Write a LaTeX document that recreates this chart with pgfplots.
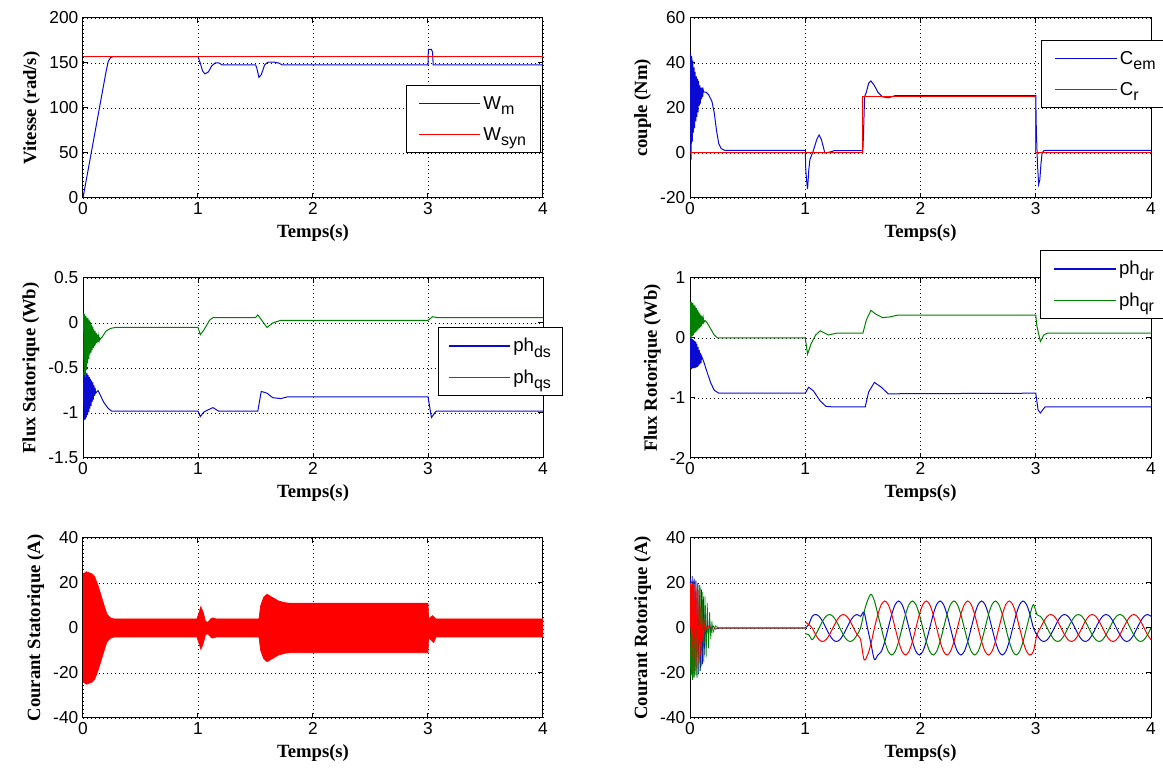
\documentclass[border=0pt]{standalone}
\usepackage{fontspec}
\setmainfont{Liberation Serif}
\setsansfont{Liberation Sans}
\usepackage{pgfplots}
\usepackage{pgfplotstable}
\pgfplotsset{compat=1.18}
\definecolor{mblue}{RGB}{10,10,210}
\definecolor{mgreen}{RGB}{0,128,0}
\definecolor{mred}{RGB}{255,0,0}
\newcommand\sub[1]{\raisebox{-0.55ex}{\fontsize{12}{12}\selectfont #1}}
\pgfplotsset{
  mat/.style={
    scale only axis, width=345pt, height=135pt,
    xmin=0, xmax=4, xtick={0,1,2,3,4},
    grid=major,
    grid style={black, line width=0.7pt, dash pattern=on 0.7pt off 2.3pt},
    axis line style={black, line width=0.75pt},
    tick align=inside, major tick length=4pt,
    tick style={black, line width=0.75pt},
    tick label style={font=\sffamily\fontsize{13}{15}\selectfont},
    /pgf/number format/assume math mode=true,
    label style={font=\bfseries\fontsize{14}{16}\selectfont},
    xlabel={Temps(s)},
    legend cell align=left,
    legend style={line width=0.75pt, fill=white,
      font=\sffamily\fontsize{14}{16}\selectfont,
      row sep=8pt, inner xsep=7pt, inner ysep=6pt},
    legend image code/.code={\draw[line width=1pt,#1] (0pt,0pt) -- (46pt,0pt);},
    every axis plot/.append style={line width=0.75pt},
  }
}
\begin{document}
\begin{tikzpicture}
% ---------- Panel 1 : speed
\begin{axis}[mat, at={(62.25pt,564.75pt)}, anchor=north west, width=345pt,
  ymin=0, ymax=200, ytick={0,50,100,150,200},
  ylabel={Vitesse (rad/s)},
  legend style={at={(0.996,0.249)}, anchor=south east, inner xsep=9pt}]
\addplot[color=mblue] table {
0 0
0.05 35
0.1 70
0.15 105
0.2 140
0.22 152
0.24 156
0.26 157
1.0 157
1.02 150
1.04 141
1.06 138
1.09 140
1.12 147
1.15 150
1.18 150
1.21 148
1.5 148
1.51 145
1.53 134
1.55 137
1.58 148
1.61 151
1.66 151
1.7 150
1.73 148
3.0 148
3.003 165
3.03 165
3.04 162
3.045 148
4 148
};
\addlegendentry{W\sub{m}}
\addplot[color=mred] table {
0 157
4 157
};
\addlegendentry{W\sub{syn}}
\end{axis}
% ---------- Panel 2 : torque
\begin{axis}[mat, at={(517.5pt,564.75pt)}, anchor=north west, width=345.75pt,
  ymin=-20, ymax=60, ytick={-20,0,20,40,60},
  ylabel={couple (Nm)},
  legend style={at={(0.761,0.878)}, anchor=north west, inner xsep=10pt}]
\addplot[color=mblue] table {
0 0
0.005 44
0.01 -3
0.015 43
0.02 5
0.025 41
0.03 9
0.035 38
0.04 11
0.045 36
0.05 14
0.055 34
0.06 16
0.065 33
0.07 18
0.075 32
0.08 21
0.085 30
0.09 22
0.095 29
0.1 24
0.105 29
0.11 25
0.115 28
0.12 27
0.14 27
0.16 26
0.19 23
0.21 18
0.23 10
0.25 4
0.27 2
0.3 1.2
1.0 1.2
1.005 -8
1.015 -14
1.02 -16
1.03 -8
1.04 -3
1.07 1
1.1 6
1.12 8
1.14 6
1.17 0
1.22 0.5
1.25 1
1.5 1
1.505 8
1.515 25
1.53 27
1.55 31
1.57 32
1.6 30
1.63 27
1.67 25
1.72 24.5
1.78 25.5
3.0 25.5
3.005 10
3.015 -5
3.025 -14
3.035 -12
3.045 -5
3.055 0
3.07 1
3.1 1.2
4 1.2
};
\addlegendentry{C\sub{em}}
\addplot[color=mred] table {
0 0
1.5 0
1.5 25
3 25
3 0
4 0
};
\addlegendentry{C\sub{r}}
\end{axis}
% ---------- Panel 3 : stator flux
\begin{axis}[mat, at={(62.25pt,369.75pt)}, anchor=north west, width=345pt,
  ymin=-1.5, ymax=0.5, ytick={-1.5,-1,-0.5,0,0.5},
  ylabel={Flux Statorique (Wb)},
  legend style={at={(0.772,0.728)}, anchor=north west}]
\addplot[color=mblue] table {
0 -0.9
0.005 -0.55
0.01 -1.08
0.015 -0.53
0.02 -1.07
0.025 -0.55
0.03 -1.05
0.035 -0.56
0.04 -1.02
0.045 -0.58
0.05 -0.99
0.055 -0.6
0.06 -0.95
0.065 -0.62
0.07 -0.92
0.075 -0.64
0.08 -0.88
0.085 -0.66
0.09 -0.85
0.095 -0.69
0.1 -0.81
0.105 -0.72
0.11 -0.78
0.13 -0.75
0.15 -0.8
0.18 -0.88
0.22 -0.95
0.25 -0.98
1.0 -0.98
1.02 -1.04
1.05 -0.99
1.08 -0.97
1.13 -0.94
1.18 -0.98
1.52 -0.98
1.55 -0.76
1.6 -0.78
1.65 -0.83
1.72 -0.84
1.78 -0.82
3.0 -0.82
3.03 -1.05
3.07 -0.98
4 -0.98
};
\addlegendentry{ph\sub{ds}}
\addplot[color=mgreen] table {
0 0
0.005 0.1
0.01 -0.58
0.015 0.1
0.02 -0.6
0.025 0.08
0.03 -0.52
0.035 0.06
0.04 -0.45
0.045 0.05
0.05 -0.4
0.055 0.03
0.06 -0.35
0.065 0.01
0.07 -0.33
0.075 -0.02
0.08 -0.3
0.085 -0.04
0.09 -0.28
0.095 -0.07
0.1 -0.26
0.105 -0.09
0.11 -0.24
0.115 -0.11
0.12 -0.22
0.125 -0.13
0.13 -0.21
0.135 -0.15
0.14 -0.2
0.145 -0.17
0.15 -0.18
0.17 -0.15
0.2 -0.09
0.24 -0.06
0.28 -0.05
1.0 -0.05
1.02 -0.13
1.05 -0.08
1.1 0.03
1.13 0.06
1.5 0.06
1.52 0.09
1.6 -0.05
1.65 0
1.72 0.03
3.0 0.03
3.04 0.07
3.08 0.06
4 0.06
};
\addlegendentry{ph\sub{qs}}
\end{axis}
% ---------- Panel 4 : rotor flux
\begin{axis}[mat, at={(517.5pt,369.75pt)}, anchor=north west, width=345.75pt,
  ymin=-2, ymax=1, ytick={-2,-1,0,1},
  ylabel={Flux Rotorique (Wb)},
  legend style={at={(0.759,1.156)}, anchor=north west, inner xsep=10pt}]
\addplot[color=mblue] table {
0 0
0.005 -0.5
0.01 0
0.015 -0.52
0.02 -0.02
0.025 -0.5
0.03 -0.03
0.035 -0.5
0.04 -0.05
0.045 -0.5
0.05 -0.06
0.055 -0.49
0.06 -0.1
0.065 -0.48
0.07 -0.15
0.075 -0.46
0.08 -0.2
0.085 -0.44
0.09 -0.25
0.095 -0.42
0.1 -0.3
0.12 -0.4
0.15 -0.58
0.18 -0.75
0.21 -0.87
0.25 -0.92
1.0 -0.92
1.03 -0.82
1.07 -0.88
1.13 -1.05
1.18 -1.14
1.25 -1.15
1.52 -1.15
1.55 -0.9
1.6 -0.74
1.66 -0.82
1.72 -0.93
3.0 -0.92
3.02 -1.2
3.04 -1.25
3.08 -1.15
4 -1.15
};
\addlegendentry{ph\sub{dr}}
\addplot[color=mgreen] table {
0 0
0.005 0.6
0.01 0.01
0.015 0.6
0.02 0.03
0.025 0.58
0.03 0.05
0.035 0.55
0.04 0.08
0.045 0.53
0.05 0.1
0.055 0.5
0.06 0.12
0.065 0.47
0.07 0.14
0.075 0.44
0.08 0.16
0.085 0.41
0.09 0.18
0.095 0.38
0.1 0.2
0.105 0.36
0.11 0.23
0.115 0.33
0.12 0.26
0.13 0.29
0.15 0.25
0.18 0.15
0.21 0.05
0.24 0.0
1.0 0.0
1.02 -0.27
1.05 -0.1
1.09 0.05
1.13 0.12
1.17 0.08
1.2 0.05
1.27 0.08
1.5 0.08
1.53 0.3
1.57 0.46
1.61 0.4
1.67 0.34
1.73 0.35
1.8 0.38
3.0 0.38
3.01 0.2
3.04 -0.06
3.07 0.05
3.1 0.08
4 0.08
};
\addlegendentry{ph\sub{qr}}
\end{axis}
% ---------- Panel 5 : stator current
\begin{axis}[mat, at={(62.25pt,174.75pt)}, anchor=north west, width=345pt,
  ymin=-40, ymax=40, ytick={-40,-20,0,20,40},
  ylabel={Courant Statorique (A)}]
\addplot[fill=mred, draw=mred, line width=0.5pt] table {
0 24
0.03 25
0.08 24
0.1 23
0.13 19
0.16 14
0.19 9
0.21 6
0.24 4.5
0.27 4
0.99 4
1.01 7
1.025 9.5
1.045 7
1.065 3
1.085 2.5
1.11 4
1.13 4.5
1.16 4
1.53 4
1.545 10
1.57 13.5
1.6 15
1.65 13.5
1.7 12
1.76 11.2
1.8 11
3.0 11
3.005 4
3.04 5.5
3.07 4
4 4
4 -4
3.07 -4
3.05 -6.5
3.02 -5
3.005 -4
3.0 -11
1.8 -11
1.76 -11.2
1.7 -12
1.65 -13.5
1.6 -15
1.57 -13.5
1.545 -10
1.53 -4
1.16 -4
1.13 -4.5
1.11 -4
1.085 -2.5
1.065 -3
1.045 -7
1.025 -9.5
1.01 -7
0.99 -4
0.27 -4
0.24 -4.5
0.21 -6
0.19 -9
0.16 -14
0.13 -19
0.1 -23
0.08 -24
0.03 -25
0 -24
};
\end{axis}
% ---------- Panel 6 : rotor current
\pgfplotstableread{
t a b c
1.00 0 -2.6 2.6
1.03 1.5 -3 1.5
1.06 5.2 -5.2 0
1.09 6 -3 -3
1.12 5.2 0 -5.2
1.15 3 3 -6
1.18 0 5.2 -5.2
1.21 -3 6 -3
1.24 -5.2 5.2 0
1.27 -6 3 3
1.30 -5.2 0 5.2
1.33 -3 -3 6
1.36 0 -5.2 5.2
1.39 3 -6 3
1.42 5.2 -5.2 0
1.45 6 -3 -3
1.48 5.2 0 -5.2
1.51 7 7 -14
1.54 0 12.1 -12.1
1.57 -7 15 -7
1.60 -14 12.1 0
1.63 -12 6 6
1.66 -10.4 0 10.4
1.69 -6 -6 12
1.72 0 -10.4 10.4
1.75 6 -12 6
1.78 10.4 -10.4 0
1.81 12 -6 -6
1.84 10.4 0 -10.4
1.87 6 6 -12
1.90 0 10.4 -10.4
1.93 -6 12 -6
1.96 -10.4 10.4 0
1.99 -12 6 6
2.02 -10.4 0 10.4
2.05 -6 -6 12
2.08 0 -10.4 10.4
2.11 6 -12 6
2.14 10.4 -10.4 0
2.17 12 -6 -6
2.20 10.4 0 -10.4
2.23 6 6 -12
2.26 0 10.4 -10.4
2.29 -6 12 -6
2.32 -10.4 10.4 0
2.35 -12 6 6
2.38 -10.4 0 10.4
2.41 -6 -6 12
2.44 0 -10.4 10.4
2.47 6 -12 6
2.50 10.4 -10.4 0
2.53 12 -6 -6
2.56 10.4 0 -10.4
2.59 6 6 -12
2.62 0 10.4 -10.4
2.65 -6 12 -6
2.68 -10.4 10.4 0
2.71 -12 6 6
2.74 -10.4 0 10.4
2.77 -6 -6 12
2.80 0 -10.4 10.4
2.83 6 -12 6
2.86 10.4 -10.4 0
2.89 12 -6 -6
2.92 10.4 0 -10.4
2.95 6 6 -12
2.98 0 10.4 -10.4
3.01 -3 6 -3
3.04 -5.2 5.2 0
3.07 -6 3 3
3.10 -5.2 0 5.2
3.13 -3 -3 6
3.16 0 -5.2 5.2
3.19 3 -6 3
3.22 5.2 -5.2 0
3.25 6 -3 -3
3.28 5.2 0 -5.2
3.31 3 3 -6
3.34 0 5.2 -5.2
3.37 -3 6 -3
3.40 -5.2 5.2 0
3.43 -6 3 3
3.46 -5.2 0 5.2
3.49 -3 -3 6
3.52 0 -5.2 5.2
3.55 3 -6 3
3.58 5.2 -5.2 0
3.61 6 -3 -3
3.64 5.2 0 -5.2
3.67 3 3 -6
3.70 0 5.2 -5.2
3.73 -3 6 -3
3.76 -5.2 5.2 0
3.79 -6 3 3
3.82 -5.2 0 5.2
3.85 -3 -3 6
3.88 0 -5.2 5.2
3.91 3 -6 3
3.94 5.2 -5.2 0
3.97 6 -3 -3
4.00 5.2 0 -5.2
}\rotor
\begin{axis}[mat, at={(517.5pt,174.75pt)}, anchor=north west, width=345.75pt,
  ymin=-40, ymax=40, ytick={-40,-20,0,20,40},
  ylabel={Courant Rotorique (A)}]
\addplot[color=mblue, line width=0.5pt] table {
0 0
0.004 22
0.012 -21
0.02 23
0.028 -22
0.036 22
0.044 -21
0.052 21
0.06 -22
0.068 20
0.076 -20
0.084 19
0.092 -19
0.1 17
0.108 -16
0.116 14
0.124 -12
0.132 10
0.14 -9
0.15 6
0.16 -5
0.17 3
0.18 -2
0.2 1
0.22 -0.5
0.25 0
1.0 0
};
\addplot[color=mgreen, line width=0.5pt] table {
0 0
0.006 -22
0.014 21
0.022 -23
0.03 21
0.038 -22
0.046 21
0.054 -21
0.062 20
0.07 -21
0.078 19
0.086 -19
0.094 18
0.102 -17
0.11 16
0.12 -15
0.13 14
0.14 -13
0.15 11
0.16 -9
0.17 7
0.18 -5
0.19 3
0.2 -2
0.22 1
0.25 0
1.0 0
};
\addplot[color=mred, line width=0.5pt] table {
0 0
0.005 20
0.013 -20
0.021 20
0.029 -20
0.037 19
0.045 -19
0.053 18
0.061 -18
0.069 17
0.077 -16
0.085 14
0.093 -12
0.101 9
0.11 -6
0.12 4
0.13 -2
0.15 1
0.18 0
1.0 0
};
\addplot[color=mblue, smooth] table[x=t, y=a] {\rotor};
\addplot[color=mgreen, smooth] table[x=t, y=b] {\rotor};
\addplot[color=mred, smooth] table[x=t, y=c] {\rotor};
\end{axis}
\pgfresetboundingbox
\path[use as bounding box] (0,0) rectangle (872.25pt,578.25pt);
\end{tikzpicture}
\end{document}
